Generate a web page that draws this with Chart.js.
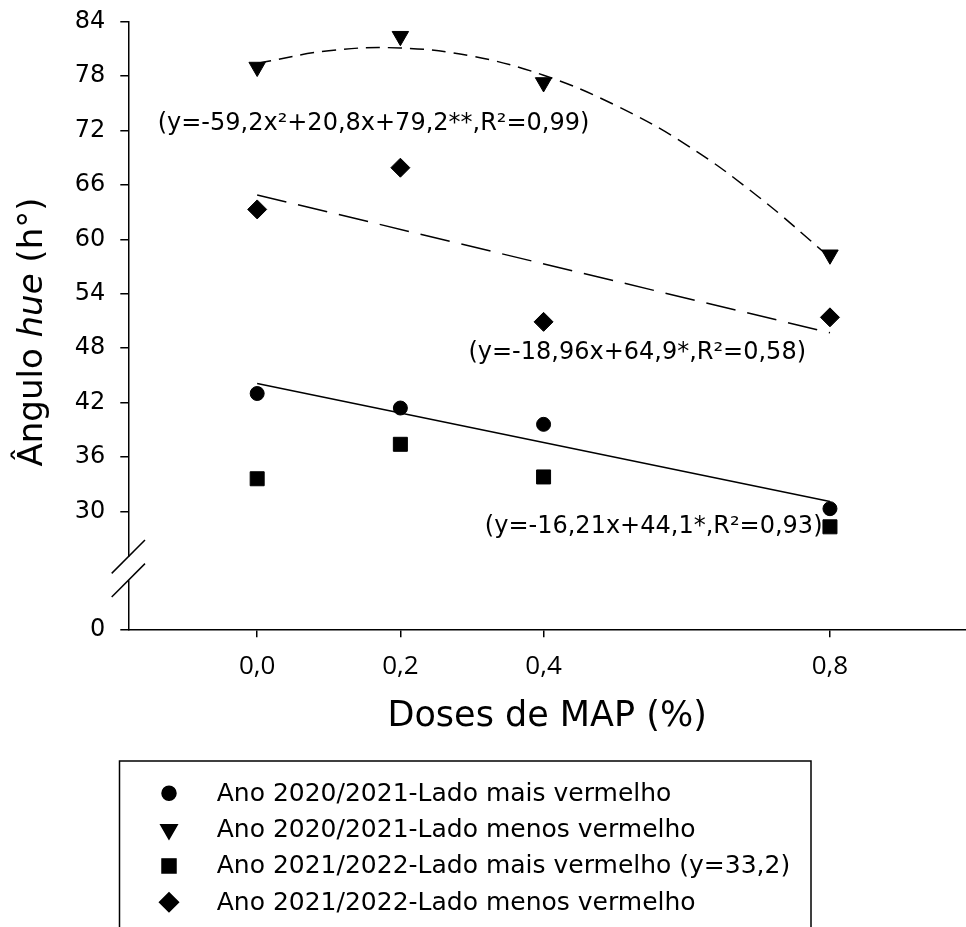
<!DOCTYPE html>
<html>
<head>
<meta charset="utf-8">
<script src="https://cdn.jsdelivr.net/npm/chart.js@4.4.1/dist/chart.umd.min.js"></script>
<style>
  html, body { margin: 0; padding: 0; background: #fff; overflow: hidden; }
  canvas { display: block; }
</style>
</head>
<body>
<canvas id="chart" width="966" height="927"></canvas>
<script>
// doses of MAP (%)
const doses = [0, 0.2, 0.4, 0.8];

// hue angle per series
const red2021 = [43.0, 41.4, 39.6, 30.3];     // 2020/2021 lado mais vermelho
const pale2021 = [79.0, 82.4, 77.3, 58.3];    // 2020/2021 lado menos vermelho
const red2022 = [33.6, 37.4, 33.8, 28.3];     // 2021/2022 lado mais vermelho
const pale2022 = [63.3, 67.9, 50.9, 51.4];    // 2021/2022 lado menos vermelho

// fitted curves
const quadFitX = [0, 0.1, 0.2, 0.3, 0.4, 0.5, 0.6, 0.7, 0.8];
const quadFitY = [79.4, 80.8, 81.1, 80.2, 78.1, 74.8, 70.4, 64.7, 58.0];
const linFitX = [0, 0.8];
const pale2022FitY = [64.9, 49.7];
const red2021FitY = [44.1, 31.1];

const seriesLabels = [
  'Ano 2020/2021-Lado mais vermelho',
  'Ano 2020/2021-Lado menos vermelho',
  'Ano 2021/2022-Lado mais vermelho (y=33,2)',
  'Ano 2021/2022-Lado menos vermelho'
];
const equations = [
  '(y=-59,2x\u00b2+20,8x+79,2**,R\u00b2=0,99)',
  '(y=-18,96x+64,9*,R\u00b2=0,58)',
  '(y=-16,21x+44,1*,R\u00b2=0,93)'
];

const xTicks = [0, 0.2, 0.4, 0.8];
const yTicks = [30, 36, 42, 48, 54, 60, 66, 72, 78, 84];

// broken axis: the "0" tick sits at this value
const yZeroAt = 17;
// where the equation texts start (in axis units)
const eqAnchors = [[-0.139, 72.8], [0.295, 47.5], [0.318, 28.3]];

const pts = (xs, ys) => xs.map((x, i) => ({ x: x, y: ys[i] }));

function markerSet(label, ys, style, radius, rotation) {
  return {
    label: label,
    data: pts(doses, ys),
    showLine: false,
    pointStyle: style,
    pointRadius: radius,
    pointRotation: rotation || 0,
    backgroundColor: '#000',
    borderColor: '#000',
    borderWidth: 1
  };
}

function fitSet(xs, ys, dash, tension) {
  return {
    data: pts(xs, ys),
    isFit: true,
    showLine: true,
    pointRadius: 0,
    borderColor: '#000',
    borderWidth: 1.5,
    borderDash: dash,
    tension: tension,
    fill: false
  };
}

function noPad(s) {
  s.paddingTop = 0; s.paddingBottom = 0; s.paddingLeft = 0; s.paddingRight = 0;
}

const decorations = {
  id: 'decorations',
  afterDraw(chart) {
    const ctx = chart.ctx;
    const xs = chart.scales.x, ys = chart.scales.y;

    // axis break
    const ax = chart.chartArea.left;
    const y1 = ys.getPixelForValue(25.0), y2 = ys.getPixelForValue(22.4);
    ctx.save();
    ctx.fillStyle = '#fff';
    ctx.fillRect(ax - 3, y1, 6, y2 - y1);
    ctx.strokeStyle = '#000';
    ctx.lineWidth = 1.5;
    [y1, y2].forEach(cy => {
      ctx.beginPath();
      ctx.moveTo(ax - 16.6, cy + 16.6);
      ctx.lineTo(ax + 16.7, cy - 16.7);
      ctx.stroke();
    });

    // equations
    ctx.fillStyle = '#000';
    ctx.font = '24px "DejaVu Sans"';
    ctx.textBaseline = 'middle';
    ctx.textAlign = 'left';
    equations.forEach((t, i) => {
      ctx.fillText(t, xs.getPixelForValue(eqAnchors[i][0]), ys.getPixelForValue(eqAnchors[i][1]));
    });

    // y title with italic "hue"
    const parts = [
      ['\u00c2ngulo ', '34px "DejaVu Sans"'],
      ['hue', 'oblique 34px "DejaVu Sans"'],
      [' (h\u00b0)', '34px "DejaVu Sans"']
    ];
    let total = 0;
    parts.forEach(p => { ctx.font = p[1]; total += ctx.measureText(p[0]).width; });
    ctx.translate(33, 332);
    ctx.rotate(-Math.PI / 2);
    let px = -total / 2;
    parts.forEach(p => {
      ctx.font = p[1];
      ctx.fillText(p[0], px, 0);
      px += ctx.measureText(p[0]).width;
    });
    ctx.restore();

    // legend box
    ctx.save();
    ctx.strokeStyle = '#000';
    ctx.lineWidth = 1.5;
    ctx.strokeRect(119.5, 761, 691.5, 200);
    ctx.font = '25px "DejaVu Sans"';
    ctx.fillStyle = '#000';
    ctx.textBaseline = 'middle';
    const items = chart.data.datasets.filter(d => !d.isFit);
    items.forEach((d, i) => {
      const cy = 793.3 + i * 36.3;
      Chart.helpers.drawPoint(ctx, {
        pointStyle: d.pointStyle,
        radius: d.pointRadius,
        rotation: d.pointRotation,
        borderWidth: 1
      }, 169, cy);
      ctx.fillStyle = '#000';
      ctx.fill();
      ctx.fillText(d.label, 216.7, cy + 1);
    });
    ctx.restore();
  }
};

new Chart(document.getElementById('chart'), {
  type: 'scatter',
  data: {
    datasets: [
      markerSet(seriesLabels[0], red2021, 'circle', 7),
      markerSet(seriesLabels[1], pale2021, 'triangle', 9.5, 180),
      markerSet(seriesLabels[2], red2022, 'rect', 9.9),
      markerSet(seriesLabels[3], pale2022, 'rectRot', 9.5),
      fitSet(quadFitX, quadFitY, [14, 8], 0.4),
      fitSet(linFitX, pale2022FitY, [30, 12], 0),
      fitSet(linFitX, red2021FitY, [], 0)
    ]
  },
  options: {
    responsive: false,
    animation: false,
    events: [],
    layout: { autoPadding: false, padding: { top: 21.7, right: 0, bottom: 187, left: 0 } },
    plugins: { legend: { display: false }, tooltip: { enabled: false } },
    scales: {
      x: {
        type: 'linear',
        min: -0.18,
        max: 0.99,
        afterBuildTicks: s => { s.ticks = xTicks.map(v => ({ value: v })); },
        afterFit: s => { s.height = 110.7; noPad(s); },
        grid: { drawOnChartArea: false, drawTicks: true, tickLength: 8, color: '#000', lineWidth: 1.5 },
        border: { display: true, color: '#000', width: 1.5 },
        ticks: {
          color: '#000',
          font: { family: '"Open Sans"', size: 26 },
          padding: 14,
          maxRotation: 0,
          callback: v => v.toFixed(1).replace('.', ',')
        },
        title: {
          display: true,
          text: 'Doses de MAP (%)',
          color: '#000',
          font: { family: '"DejaVu Sans"', size: 35 },
          padding: { top: 0, bottom: 2 }
        }
      },
      y: {
        min: yZeroAt,
        max: 84,
        afterBuildTicks: s => { s.ticks = [yZeroAt].concat(yTicks).map(v => ({ value: v })); },
        afterFit: s => { s.width = 128.3; noPad(s); },
        grid: { drawOnChartArea: false, drawTicks: true, tickLength: 8, color: '#000', lineWidth: 1.5 },
        border: { display: true, color: '#000', width: 1.5 },
        ticks: {
          color: '#000',
          font: { family: '"DejaVu Sans"', size: 24 },
          padding: 15,
          callback: v => (v === yZeroAt ? '0' : String(v))
        }
      }
    }
  },
  plugins: [decorations]
});
</script>
</body>
</html>
